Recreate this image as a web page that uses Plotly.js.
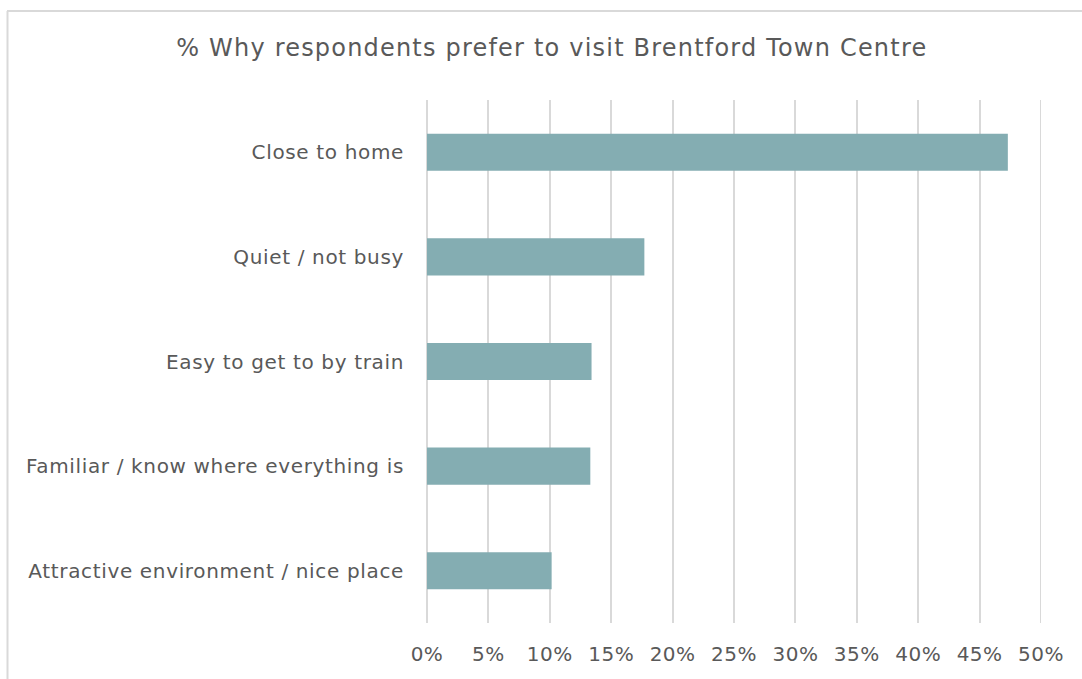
<!DOCTYPE html>
<html>
<head>
<meta charset="utf-8">
<script src="https://cdn.plot.ly/plotly-3.0.1.min.js"></script>
<style>
  html, body { margin: 0; padding: 0; background: #fff; }
  #chart { width: 1082px; height: 679px; }
  #chart .ytick text { letter-spacing: 0.65px; }
  #chart .xtick text { letter-spacing: 0.5px; }
  #chart .gtitle { letter-spacing: 1.2px; }
</style>
</head>
<body>
<div id="chart"></div>
<script>
const categories = [
  "Close to home",
  "Quiet / not busy",
  "Easy to get to by train",
  "Familiar / know where everything is",
  "Attractive environment / nice place"
];
const values = [0.473, 0.177, 0.134, 0.133, 0.1015];
const tickVals = [0, 0.05, 0.1, 0.15, 0.2, 0.25, 0.3, 0.35, 0.4, 0.45, 0.5];
const tickText = ["0%", "5%", "10%", "15%", "20%", "25%", "30%", "35%", "40%", "45%", "50%"];
const titleText = "% Why respondents prefer to visit Brentford Town Centre";

const textColor = "#595959";
const fontFam = "DejaVu Sans, Verdana, sans-serif";
const gridColor = "#d9d9d9";

const trace = {
  type: "bar",
  orientation: "h",
  y: categories,
  x: values,
  marker: { color: "#84ADB2" },
  hoverinfo: "none"
};

const L = 427, R = 1041, T = 100, B = 623;
const W = 1082, H = 679;
const pw = R - L, ph = B - T;
const xMax = tickVals[tickVals.length - 1];

const layout = {
  width: W,
  height: H,
  margin: { l: L, r: W - R, t: T, b: H - B, pad: 0 },
  paper_bgcolor: "#ffffff",
  plot_bgcolor: "#ffffff",
  showlegend: false,
  bargap: 0.645,
  title: {
    text: titleText,
    font: { family: fontFam, size: 24, color: textColor },
    xref: "container",
    x: 0.51,
    xanchor: "center",
    yref: "container",
    y: 1 - 48 / H,
    yanchor: "middle"
  },
  xaxis: {
    range: [0, xMax],
    tickvals: tickVals,
    ticktext: tickText,
    showgrid: true,
    gridcolor: gridColor,
    gridwidth: 2,
    zeroline: true,
    zerolinecolor: gridColor,
    zerolinewidth: 2,
    showline: false,
    ticks: "outside",
    ticklen: 13,
    tickcolor: "rgba(0,0,0,0)",
    tickfont: { family: fontFam, size: 20, color: textColor },
    fixedrange: true
  },
  yaxis: {
    autorange: "reversed",
    showgrid: false,
    zeroline: false,
    showline: false,
    ticks: "outside",
    ticklen: 18,
    tickcolor: "rgba(0,0,0,0)",
    tickfont: { family: fontFam, size: 20, color: textColor },
    fixedrange: true
  },
  shapes: [
    {
      type: "line", xref: "x", yref: "paper", layer: "below",
      x0: xMax, x1: xMax, y0: 0, y1: 1,
      line: { color: gridColor, width: 2 }
    },
    {
      type: "line", xref: "paper", yref: "paper",
      x0: (7 - L) / pw, x1: (W + 5 - L) / pw,
      y0: (B - 11) / ph, y1: (B - 11) / ph,
      line: { color: gridColor, width: 2 }
    },
    {
      type: "line", xref: "paper", yref: "paper",
      x0: (7.5 - L) / pw, x1: (7.5 - L) / pw,
      y0: (B - 11) / ph, y1: (B - H - 5) / ph,
      line: { color: gridColor, width: 2 }
    }
  ]
};

Plotly.newPlot("chart", [trace], layout, { displayModeBar: false, staticPlot: true });
</script>
</body>
</html>
